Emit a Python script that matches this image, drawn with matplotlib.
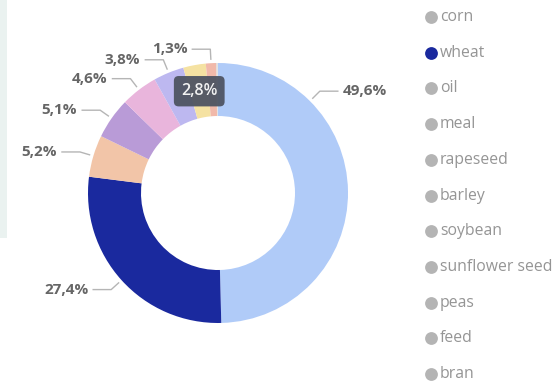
import numpy as np
import matplotlib.pyplot as plt
from matplotlib.patches import Rectangle

# Share by crop (percent), clockwise from 12 o'clock
crops = ['corn', 'wheat', 'oil', 'meal', 'rapeseed', 'barley', 'soybean',
         'sunflower seed', 'peas', 'feed', 'bran']
shares = [49.6, 27.4, 5.2, 5.1, 4.6, 3.8, 2.8, 1.3, 0.1, 0.06, 0.04]
colors = ['#b0cbf8', '#1a299e', '#f2c5a8', '#b99bd7', '#e9b5dc', '#bdb8f0',
          '#f5e2a2', '#f1b9aa', '#d9d9d9', '#e6e6e6', '#cccccc']
labelled = ['corn', 'wheat', 'oil', 'meal', 'rapeseed', 'barley', 'sunflower seed']
highlight = 'soybean'      # shown in a dark box on the ring
legend_active = 'wheat'

fig = plt.figure(figsize=(5.59, 3.81), dpi=100)
ax = fig.add_axes([0, 0, 1, 1])

cx, cy = 218, 193
R, width = 130, 53

wedges, _ = ax.pie(shares, colors=colors, center=(cx, cy), radius=R,
                   startangle=-90, counterclock=True, frame=True,
                   wedgeprops=dict(width=width, linewidth=0))
ax.set_xlim(0, 559)
ax.set_ylim(381, 0)
ax.axis('off')

# faint panel edge on the left
ax.add_patch(Rectangle((0, 0), 7, 238, color='#eaf2f0', zorder=0, lw=0))

lab_font = dict(family=['Open Sans', 'DejaVu Sans'], fontsize=11,
                fontweight='bold', color='#666666')

for w, name, v in zip(wedges, crops, shares):
    mid = (w.theta1 + w.theta2) / 2
    if name == 'corn':
        mid = -45  # big slice: label sits up to the right
    t = np.deg2rad(mid)
    txt = f'{v:.1f}'.replace('.', ',') + '%'
    if name == highlight:
        rm = R - width / 2
        ax.text(cx + rm * np.cos(t), cy + rm * np.sin(t), txt,
                ha='center', va='center', color='#f2f2f2',
                family=['Open Sans', 'DejaVu Sans'], fontsize=11.5,
                fontweight='semibold', zorder=5,
                bbox=dict(boxstyle='round,pad=0.45,rounding_size=0.3',
                          fc='#4e5462', ec='none', alpha=0.95))
        continue
    if name not in labelled:
        continue
    x0, y0 = cx + (R + 4) * np.cos(t), cy + (R + 4) * np.sin(t)
    x1, y1 = cx + (R + 14) * np.cos(t), cy + (R + 14) * np.sin(t)
    side = 1 if np.cos(t) > 0 else -1
    x2 = x1 + side * 18
    ax.plot([x0, x1, x2], [y0, y1, y1], color='#b5b5b5', lw=1)
    ax.text(x2 + side * 5, y1, txt, ha='left' if side > 0 else 'right',
            va='center', **lab_font)

# legend
for i, name in enumerate(crops):
    y = 17 + i * 35.7
    c = '#1a299e' if name == legend_active else '#b4b4b4'
    ax.scatter([431], [y], s=85, color=c, zorder=5, lw=0)
    ax.text(440, y, name, ha='left', va='center', color='#959595',
            family=['Open Sans', 'DejaVu Sans'], fontsize=11.3)

fig.savefig('out.png', dpi=100)
